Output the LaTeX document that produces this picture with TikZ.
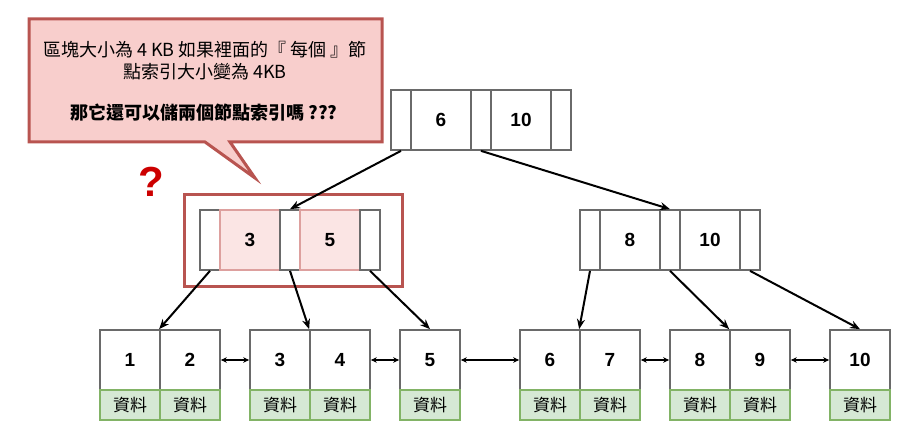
\documentclass[tikz,border=0pt]{standalone}
\usepackage{fontspec}
\setmainfont{Liberation Sans}
\newfontfamily\cjk{Noto Sans CJK TC}
\usetikzlibrary{arrows.meta}
\definecolor{cellgray}{HTML}{6A6A6A}
\definecolor{redfill}{HTML}{F8CECC}
\definecolor{redline}{HTML}{B85450}
\definecolor{pinkfill}{HTML}{FBE5E4}
\definecolor{pinkline}{HTML}{DDA09E}
\definecolor{greenfill}{HTML}{D5E8D4}
\definecolor{greenline}{HTML}{82B366}
\definecolor{qred}{HTML}{CC0000}
\tikzset{
  keycell/.style={draw=cellgray, line width=1.7pt, minimum width=60pt, minimum height=60pt, inner sep=0pt,
    font=\fontsize{19}{19}\selectfont\bfseries},
  ptrcell/.style={draw=cellgray, line width=1.7pt, minimum width=20pt, minimum height=60pt, inner sep=0pt},
  hotcell/.style={keycell, fill=pinkfill, draw=pinkline},
  datacell/.style={draw=greenline, fill=greenfill, line width=2.8pt, minimum width=60pt, minimum height=30pt, inner sep=0pt,
    font=\cjk\fontsize{17}{17}\selectfont},
  tree/.style={line width=2pt, -{Stealth[length=10pt,width=8pt]}},
  link/.style={line width=1.2pt, {Stealth[length=6pt,width=5.5pt]}-{Stealth[length=6pt,width=5.5pt]}},
  calltext/.style={font=\cjk\fontsize{18}{18}\selectfont, inner sep=0pt}
}
\begin{document}
\begin{tikzpicture}[x=1pt,y=-1pt]
\useasboundingbox (0,0) rectangle (911,441);

% callout
\draw[fill=redfill, draw=redline, line width=3pt, line join=miter]
  (29,19) -- (382,19) -- (382,142) -- (230,142) -- (255,178) -- (205,142) -- (29,142) -- cycle;
\node[calltext] (t1) at (205,50) {區塊大小為 4 KB 如果裡面的『 每個 』節};
\node[calltext] (t2) at (205,72) {點索引大小變為 4KB};
\node[calltext, font=\cjk\fontsize{18}{18}\selectfont\bfseries] (t3) at (204,113) {那它還可以儲兩個節點索引嗎 ???};

% question mark
\node[text=qred, font=\fontsize{42}{42}\selectfont\bfseries, inner sep=0pt] (q) at (151,182) {?};

% root
\node[ptrcell] (rp1) at (401,120) {};
\node[keycell] (rk1) at (441,120) {6};
\node[ptrcell] (rp2) at (481,120) {};
\node[keycell] (rk2) at (521,120) {10};
\node[ptrcell] (rp3) at (561,120) {};

% left internal
\draw[draw=redline, line width=3pt] (184,195) rectangle (402,286);
\node[ptrcell] (lp1) at (210,240) {};
\node[hotcell] (lk1) at (250,240) {3};
\node[ptrcell] (lp2) at (290,240) {};
\node[hotcell] (lk2) at (330,240) {5};
\node[ptrcell] (lp3) at (370,240) {};

% right internal
\node[ptrcell] (qp1) at (590,240) {};
\node[keycell] (qk1) at (630,240) {8};
\node[ptrcell] (qp2) at (670,240) {};
\node[keycell] (qk2) at (710,240) {10};
\node[ptrcell] (qp3) at (750,240) {};

% leaves
\foreach \n/\x in {1/130,2/190,3/280,4/340,5/430,6/550,7/610,8/700,9/760,10/860}{
  \node[keycell] (l\n) at (\x,360) {\n};
  \node[datacell] (d\n) at (\x,405) {資料};
}

% tree connectors
\draw[tree] (rp1.south) -- (lp2.north);
\draw[tree] (rp2.south) -- (qp2.north);
\draw[tree] (lp1.south) -- (l2.north west);
\draw[tree] (lp2.south) -- (l4.north west);
\draw[tree] (lp3.south) -- (l5.north);
\draw[tree] (qp1.south) -- (l7.north west);
\draw[tree] (qp2.south) -- (l9.north west);
\draw[tree] (qp3.south) -- (l10.north);

% leaf links
\draw[link] (l2.east) -- (l3.west);
\draw[link] (l4.east) -- (l5.west);
\draw[link] (l5.east) -- (l6.west);
\draw[link] (l7.east) -- (l8.west);
\draw[link] (l9.east) -- (l10.west);
\end{tikzpicture}
\end{document}
